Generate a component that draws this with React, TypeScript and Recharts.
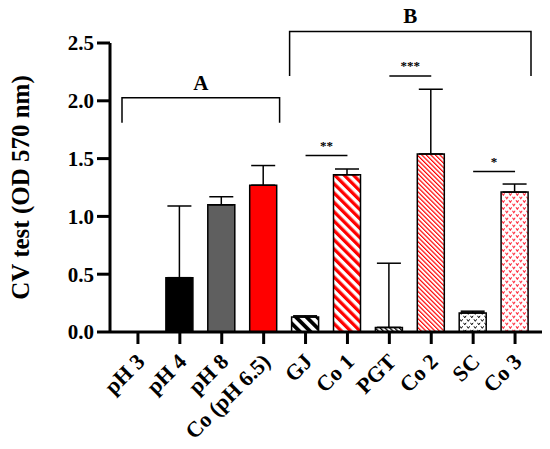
import { BarChart, Bar, XAxis, YAxis, Cell, ErrorBar, ReferenceLine, ReferenceArea } from "recharts";

const FONT = "'Liberation Serif', 'Times New Roman', serif";

const categories = ['pH 3', 'pH 4', 'pH 8', 'Co (pH 6.5)', 'GJ', 'Co 1', 'PGT', 'Co 2', 'SC', 'Co 3'];
const means = [0, 0.47, 1.1, 1.27, 0.13, 1.36, 0.04, 1.54, 0.165, 1.21];
const upperErrors = [0, 0.62, 0.07, 0.17, 0.01, 0.05, 0.555, 0.56, 0.015, 0.07];
const yTicks = [0, 0.5, 1, 1.5, 2, 2.5];

// bar fills (solid or svg pattern ids)
const fills = [
  '#ffffff', '#000000', '#5f5f5f', '#ff0000',
  'url(#stripeBlackWide)', 'url(#stripeRedWide)',
  'url(#stripeBlackThin)', 'url(#stripeRedThin)',
  'url(#vBlack)', 'url(#vRed)',
];

// group brackets: [label, first, last, bottom, top]
const groups: [string, string, string, number, number][] = [
  ['A', 'pH 3', 'Co (pH 6.5)', 1.81, 2.026],
  ['B', 'GJ', 'Co 3', 2.215, 2.6],
];

// significance lines: [label, from, to, y]
const signif: [string, string, string, number][] = [
  ['**', 'GJ', 'Co 1', 1.526],
  ['***', 'PGT', 'Co 2', 2.215],
  ['*', 'SC', 'Co 3', 1.388],
];

const data = categories.map((name, i) => ({
  name,
  value: means[i],
  err: [0, upperErrors[i]],
}));

const Patterns = () => (
  <svg width={0} height={0} style={{ position: 'absolute' }}>
    <defs>
      <pattern id="stripeBlackWide" width={7.5} height={7.5} patternUnits="userSpaceOnUse" patternTransform="rotate(-45)">
        <rect width={7.5} height={7.5} fill="#fff" />
        <rect width={3.8} height={7.5} fill="#000" />
      </pattern>
      <pattern id="stripeRedWide" width={6.6} height={6.6} patternUnits="userSpaceOnUse" patternTransform="rotate(-45)">
        <rect width={6.6} height={6.6} fill="#fff" />
        <rect width={3.3} height={6.6} fill="#ff0000" />
      </pattern>
      <pattern id="stripeBlackThin" width={3.4} height={3.4} patternUnits="userSpaceOnUse" patternTransform="rotate(-45)">
        <rect width={3.4} height={3.4} fill="#fff" />
        <rect width={1.3} height={3.4} fill="#000" />
      </pattern>
      <pattern id="stripeRedThin" width={3.2} height={3.2} patternUnits="userSpaceOnUse" patternTransform="rotate(-45)">
        <rect width={3.2} height={3.2} fill="#fff" />
        <rect width={1.2} height={3.2} fill="#ff0000" />
      </pattern>
      <pattern id="vBlack" width={7} height={7} patternUnits="userSpaceOnUse">
        <rect width={7} height={7} fill="#fff" />
        <path d="M0.5,0.8 L1.8,2.8 L3.1,0.8 M4,4.3 L5.3,6.3 L6.6,4.3" stroke="#000" strokeWidth={1} fill="none" />
      </pattern>
      <pattern id="vRed" width={7} height={7} patternUnits="userSpaceOnUse">
        <rect width={7} height={7} fill="#fff" />
        <path d="M0.5,0.8 L1.8,2.8 L3.1,0.8 M4,4.3 L5.3,6.3 L6.6,4.3" stroke="#ff3344" strokeWidth={1.1} fill="none" />
      </pattern>
    </defs>
  </svg>
);

const bracketShape = (label: string) => (props: any) => {
  const { x, y, width, height } = props;
  const inset = 5;
  const left = x + inset;
  const right = x + width - inset;
  const bottom = y + height;
  return (
    <g>
      <path d={`M${left},${bottom}V${y}H${right}V${bottom}`} stroke="#000" strokeWidth={1.5} fill="none" />
      <text x={(left + right) / 2} y={y - 8} textAnchor="middle" fontSize={21} fontWeight="bold" fontFamily={FONT} fill="#000">
        {label}
      </text>
    </g>
  );
};

const XTick = (props: any) => {
  const { x, y, payload } = props;
  const ax = x + 8;
  const ay = y + 17;
  return (
    <text x={ax} y={ay} transform={`rotate(-45 ${ax} ${ay})`} textAnchor="end" fontSize={22} fontWeight="bold" fontFamily={FONT} fill="#000">
      {payload.value}
    </text>
  );
};

export default function App() {
  return (
    <div style={{ width: 542, height: 449, position: 'relative', marginTop: -8 }}>
      <Patterns />
      <BarChart width={542} height={449} data={data} margin={{ top: 43, right: 6, left: 0, bottom: 0 }}>
        <XAxis
          dataKey="name"
          interval={0}
          height={117}
          padding={{ left: 7, right: 8 }}
          tickSize={12}
          axisLine={{ stroke: '#000', strokeWidth: 3 }}
          tickLine={{ stroke: '#000', strokeWidth: 3 }}
          tick={<XTick />}
        />
        <YAxis
          width={102}
          domain={[0, 2.5]}
          ticks={yTicks}
          tickFormatter={(v: number) => v.toFixed(1)}
          tickSize={13}
          tickMargin={3}
          axisLine={{ stroke: '#000', strokeWidth: 3 }}
          tickLine={{ stroke: '#000', strokeWidth: 3 }}
          tick={{ fill: '#000', fontSize: 21, fontWeight: 'bold', fontFamily: FONT }}
          label={{
            value: 'CV test (OD 570 nm)',
            angle: -90,
            position: 'insideLeft',
            offset: 12,
            style: { textAnchor: 'middle', fontSize: 25, fontWeight: 'bold', fontFamily: FONT, fill: '#000' },
          }}
        />
        <Bar dataKey="value" barSize={27} isAnimationActive={false}>
          {data.map((d, i) => (
            <Cell key={d.name} fill={fills[i]} stroke="#000" strokeWidth={1.5} />
          ))}
          <ErrorBar dataKey="err" direction="y" width={12} stroke="#000" strokeWidth={1.5} />
        </Bar>
        {groups.map(([label, x1, x2, y1, y2]) => (
          <ReferenceArea key={label} x1={x1} x2={x2} y1={y1} y2={y2} ifOverflow="visible" shape={bracketShape(label)} />
        ))}
        {signif.map(([label, from, to, y]) => (
          <ReferenceLine
            key={label}
            segment={[{ x: from, y }, { x: to, y }]}
            stroke="#000"
            strokeWidth={1.5}
            ifOverflow="visible"
            label={{ value: label, position: 'top', offset: 6, fontSize: 13, fontWeight: 'bold', fontFamily: FONT, fill: '#000' }}
          />
        ))}
      </BarChart>
    </div>
  );
}
